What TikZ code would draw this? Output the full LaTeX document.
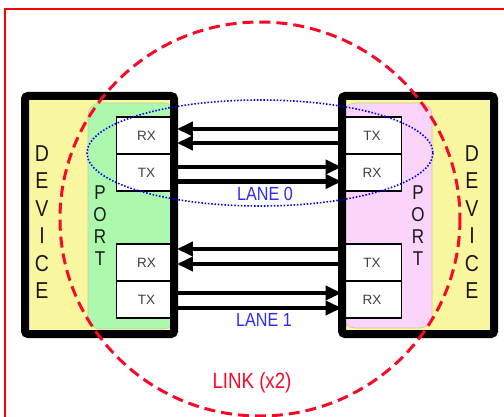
\documentclass[tikz,border=0pt]{standalone}
\usepackage{fontspec}
\setmainfont{Liberation Sans}
\newfontfamily\narrowf[FakeStretch=0.85]{Liberation Sans}
\usetikzlibrary{arrows.meta,calc}
\definecolor{devyellow}{RGB}{249,246,160}
\definecolor{portgreen}{RGB}{172,248,172}
\definecolor{portpink}{RGB}{250,212,250}
\definecolor{portedge}{RGB}{205,200,150}
\definecolor{laneblue}{RGB}{45,45,240}
\definecolor{linkred}{RGB}{245,10,40}
\definecolor{framered}{RGB}{255,0,0}
\begin{document}
\begin{tikzpicture}[x=1pt,y=-1pt,
  devbody/.style={fill=devyellow,inner sep=0pt,outer sep=0pt},
  devborder/.style={draw=black,line width=8pt,rounded corners=3pt},
  portshape/.style={draw=portedge,line width=0.6pt,rounded corners=12pt,inner sep=0pt,outer sep=0pt},
  lanebox/.style={draw=black,line width=1.4pt,fill=white,minimum width=59.5pt,minimum height=37pt,inner sep=0pt,font=\fontsize{13.5}{14}\selectfont,text=black!75},
  sig/.style={line width=4.4pt,-{Triangle[length=16pt,width=14pt]}},
  devtext/.style={align=center,inner sep=0pt,font=\narrowf\fontsize{23}{27.5}\selectfont,text=black!90},
  porttext/.style={align=center,inner sep=0pt,font=\narrowf\fontsize{20}{22}\selectfont,text=black!90},
  lanetext/.style={inner sep=0pt,font=\narrowf\fontsize{19}{20}\selectfont,text=laneblue},
  linktext/.style={inner sep=0pt,font=\narrowf\fontsize{22}{24}\selectfont,text=linkred},
  linkring/.style={draw=linkred,line width=3pt,dash pattern=on 11pt off 6pt},
  laneloop/.style={draw=blue,line width=1.6pt,dash pattern=on 1.5pt off 1.8pt}
]
\useasboundingbox (0,0) rectangle (504,417);
\fill[white] (0,0) rectangle (504,417);
\begin{scope}
\clip (0,0) rectangle (504,417);
\draw[framered,line width=2pt] (5,9) rectangle (530,440);
\end{scope}

% device bodies
\node[devbody,minimum width=149pt,minimum height=238pt] (devL) at (99.5,215) {};
\node[devbody,minimum width=152pt,minimum height=238pt] (devR) at (418,215) {};

% ports
\node[portshape,fill=portgreen,minimum width=88pt,minimum height=226pt] (portL) at (132,216) {};
\node[portshape,fill=portpink,minimum width=89pt,minimum height=225pt] (portR) at (387.5,215.5) {};

% lane boxes
\node[lanebox] (rxL0) at (146.5,135.5) {RX};
\node[lanebox] (txL0) at (146.5,172.5) {TX};
\node[lanebox] (rxL1) at (146.5,262.5) {RX};
\node[lanebox] (txL1) at (146.5,299.5) {TX};
\node[lanebox] (txR0) at (372,135.5) {TX};
\node[lanebox] (rxR0) at (372,172.5) {RX};
\node[lanebox] (txR1) at (372,262.5) {TX};
\node[lanebox] (rxR1) at (372,299.5) {RX};

% device borders
\draw[devborder] (devL.north west) rectangle (devL.south east);
\draw[devborder] (devR.north west) rectangle (devR.south east);

% signals lane 0
\draw[sig] ($(txR0.west)+(0,-6.5)$) -- ($(rxL0.east)+(0,-6.5)$);
\draw[sig] ($(txR0.west)+(0,7.5)$) -- ($(rxL0.east)+(0,7.5)$);
\draw[sig] ($(txL0.east)+(0,-5.5)$) -- ($(rxR0.west)+(0,-5.5)$);
\draw[sig] ($(txL0.east)+(0,9)$) -- ($(rxR0.west)+(0,9)$);
% signals lane 1
\draw[sig] ($(txR1.west)+(0,-13.5)$) -- ($(rxL1.east)+(0,-13.5)$);
\draw[sig] ($(txR1.west)+(0,1.5)$) -- ($(rxL1.east)+(0,1.5)$);
\draw[sig] ($(txL1.east)+(0,-6.5)$) -- ($(rxR1.west)+(0,-6.5)$);
\draw[sig] ($(txL1.east)+(0,8.5)$) -- ($(rxR1.west)+(0,8.5)$);

% device and port labels
\node[devtext] (devLtxt) at (42,222) {D\\E\\V\\I\\C\\E};
\node[devtext] (devRtxt) at (472,222) {D\\E\\V\\I\\C\\E};
\node[porttext] (portLtxt) at (100,226) {P\\O\\R\\T};
\node[porttext] (portRtxt) at (418,226) {P\\O\\R\\T};

% lane labels
\node[lanetext] (lane0) at (265,194) {LANE 0};
\node[lanetext] (lane1) at (264,320) {LANE 1};

% link ring and lane loop
\draw[linkring] (260,219) ellipse [x radius=200, y radius=197];
\draw[laneloop] (260,153) ellipse [x radius=173, y radius=53];
\node[linktext] (link) at (252,383) {LINK (x2)};
\end{tikzpicture}
\end{document}
